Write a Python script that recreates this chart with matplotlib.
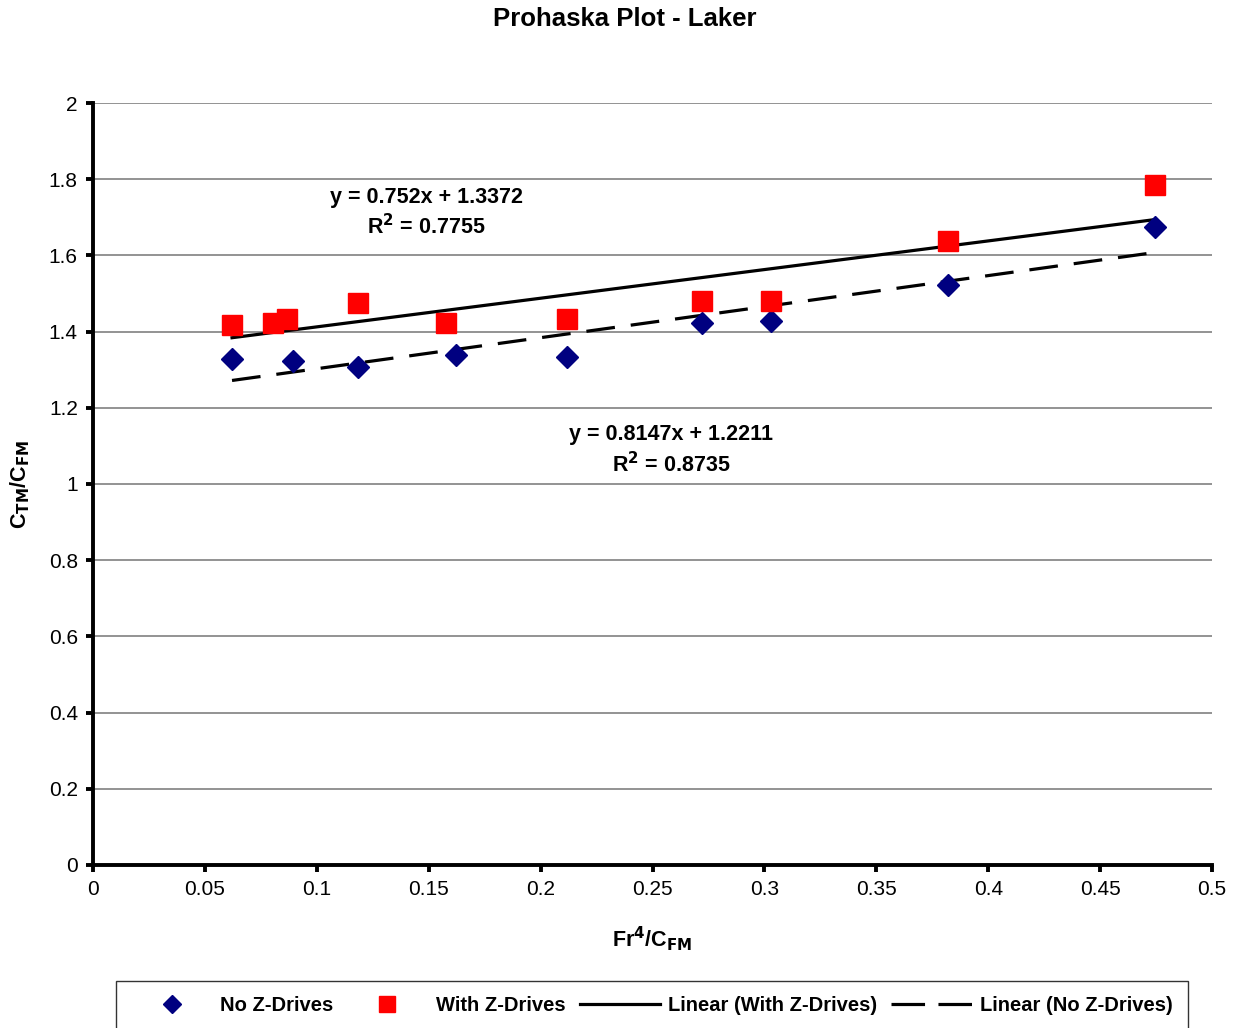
import numpy as np
import matplotlib.pyplot as plt
from matplotlib.lines import Line2D

plt.rcParams['font.family'] = ['Liberation Sans', 'DejaVu Sans']
plt.rcParams['mathtext.default'] = 'bf'

# data
no_z_x = [0.0621, 0.0894, 0.1184, 0.1622, 0.2118, 0.2721, 0.3029, 0.382, 0.4745]
no_z_y = [1.328, 1.323, 1.307, 1.339, 1.333, 1.423, 1.428, 1.522, 1.675]
with_z_x = [0.0621, 0.0804, 0.0867, 0.1184, 0.1577, 0.2118, 0.2721, 0.3029, 0.382, 0.4745]
with_z_y = [1.417, 1.423, 1.433, 1.475, 1.423, 1.433, 1.480, 1.480, 1.638, 1.785]

# trendline coefficients (slope, intercept) as printed on the chart
fit_with = (0.752, 1.3372)
fit_no = (0.8147, 1.2211)
r2_with = 0.7755
r2_no = 0.8735

fig = plt.figure(figsize=(12.49, 10.28), dpi=100)
ax = fig.add_axes([0.0745, 0.1586, 0.8959, 0.7412])

ax.set_xlim(0, 0.5)
ax.set_ylim(0, 2)
ax.set_xticks(np.arange(0, 0.51, 0.05))
ax.set_xticklabels(['0', '0.05', '0.1', '0.15', '0.2', '0.25', '0.3', '0.35', '0.4', '0.45', '0.5'])
ax.set_yticks(np.arange(0, 2.01, 0.2))
ax.set_yticklabels(['0', '0.2', '0.4', '0.6', '0.8', '1', '1.2', '1.4', '1.6', '1.8', '2'])
ax.grid(axis='y', color='#808080', linewidth=1.2)
ax.set_axisbelow(True)

for s in ['top', 'right']:
    ax.spines[s].set_visible(False)
for s in ['left', 'bottom']:
    ax.spines[s].set_linewidth(2.8)
ax.tick_params(axis='both', direction='out', length=5, width=2.8, labelsize=15, pad=6)

# trend lines
xw = np.array([min(with_z_x), max(with_z_x)])
ax.plot(xw, fit_with[0] * xw + fit_with[1], color='black', linewidth=2.3, zorder=2)
xn = np.array([min(no_z_x), max(no_z_x)])
ax.plot(xn, fit_no[0] * xn + fit_no[1], color='black', linewidth=2.3,
        dashes=(9, 5), zorder=2)

ax.plot(no_z_x, no_z_y, linestyle='none', marker='D', markersize=11,
        color='#000080', zorder=3)
ax.plot(with_z_x, with_z_y, linestyle='none', marker='s', markersize=14,
        color='#ff0000', zorder=3)

ax.text(0.1488, 1.753, 'y = %gx + %g' % fit_with, ha='center', va='center',
        fontsize=15.5, fontweight='bold')
ax.text(0.1488, 1.675, r'R$^{2}$ = %g' % r2_with, ha='center', va='center',
        fontsize=15.5, fontweight='bold')
ax.text(0.2583, 1.129, 'y = %gx + %g' % fit_no, ha='center', va='center',
        fontsize=15.5, fontweight='bold')
ax.text(0.2583, 1.050, r'R$^{2}$ = %g' % r2_no, ha='center', va='center',
        fontsize=15.5, fontweight='bold')

fig.suptitle('Prohaska Plot - Laker', y=0.993, fontsize=18.5, fontweight='bold')
ax.set_xlabel(r'Fr$^{4}$/C$_{FM}$', fontsize=15.5, fontweight='bold', labelpad=18)
ax.set_ylabel(r'C$_{TM}$/C$_{FM}$', fontsize=15.5, fontweight='bold', labelpad=12)

handles = [
    Line2D([], [], linestyle='none', marker='D', markersize=9, color='#000080'),
    Line2D([], [], linestyle='none', marker='s', markersize=11, color='#ff0000'),
    Line2D([], [], color='black', linewidth=2.3),
    Line2D([], [], color='black', linewidth=2.3, dashes=(10.5, 4.2)),
]
labels = ['No Z-Drives', 'With Z-Drives', 'Linear (With Z-Drives)', 'Linear (No Z-Drives)']
leg = fig.legend(handles, labels, loc='center', bbox_to_anchor=(0.522, 0.022), ncol=4,
                 prop={'weight': 'bold', 'size': 14.5}, frameon=True, fancybox=False,
                 edgecolor='black', handlelength=4.0, handletextpad=0.4,
                 columnspacing=0.7, borderpad=0.75)
leg.get_frame().set_linewidth(1.0)

fig.savefig('out.png', dpi=100)
